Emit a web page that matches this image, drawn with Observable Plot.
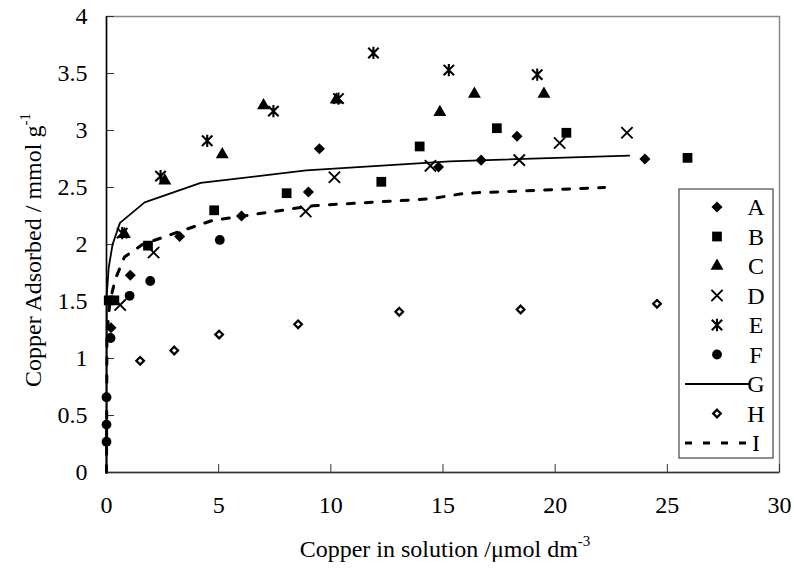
<!DOCTYPE html>
<html><head><meta charset="utf-8">
<script src="https://cdn.jsdelivr.net/npm/d3@7"></script>
<script src="https://cdn.jsdelivr.net/npm/@observablehq/plot@0.6"></script>
<style>
body{margin:0;background:#fff}
#chart{position:relative;width:794px;height:578px}
</style>
</head><body><div id="chart"></div>
<script>
// ---- data ----
const xTicks = [0, 5, 10, 15, 20, 25, 30];
const yTicks = [0, 0.5, 1, 1.5, 2, 2.5, 3, 3.5, 4];
const seriesNames = ["A", "B", "C", "D", "E", "F", "G", "H", "I"];

const aX = [0.2, 1.06, 3.26, 6.02, 9.0, 9.49, 14.8, 16.7, 18.3, 24.0];
const aY = [1.27, 1.73, 2.07, 2.25, 2.46, 2.84, 2.68, 2.74, 2.95, 2.75];

const bX = [0.1, 0.35, 1.85, 4.8, 8.03, 12.25, 13.96, 17.4, 20.5, 25.9];
const bY = [1.51, 1.51, 1.99, 2.30, 2.45, 2.55, 2.86, 3.02, 2.98, 2.76];

const cX = [0.8, 2.6, 5.16, 7.0, 10.24, 14.86, 16.4, 19.5];
const cY = [2.09, 2.56, 2.79, 3.22, 3.27, 3.16, 3.32, 3.32];

const dX = [0.61, 2.1, 8.88, 10.16, 14.44, 18.4, 20.2, 23.2];
const dY = [1.47, 1.93, 2.29, 2.59, 2.69, 2.74, 2.89, 2.98];

const eX = [0.7, 2.41, 4.49, 7.44, 10.34, 11.9, 15.26, 19.2];
const eY = [2.10, 2.60, 2.91, 3.17, 3.28, 3.68, 3.53, 3.49];

const fX = [0.0, 0.0, 0.0, 0.18, 1.03, 1.95, 5.05];
const fY = [0.27, 0.42, 0.66, 1.18, 1.55, 1.68, 2.04];

const gX = [0, 0.01, 0.1, 0.27, 0.6, 1.7, 4.2, 8.9, 15.3, 23.3];
const gY = [0, 1.55, 1.8, 2.0, 2.19, 2.37, 2.54, 2.65, 2.73, 2.78];

const hX = [1.5, 3.02, 5.02, 8.54, 13.05, 18.46, 24.54];
const hY = [0.98, 1.07, 1.21, 1.30, 1.41, 1.43, 1.48];

const iX = [0, 0.02, 0.15, 0.4, 0.8, 1.6, 3.2, 4.7, 9.2, 14.4, 16.0, 22.2];
const iY = [0, 1.2, 1.5, 1.7, 1.89, 2.0, 2.11, 2.21, 2.34, 2.40, 2.45, 2.50];

// ---- helpers ----
const pts = (xs, ys) => xs.map((x, i) => ({x, y: ys[i]}));
const FONT = "'Liberation Serif', 'Times New Roman', serif";

const asterisk = {
  draw(context, size) {
    const h = Math.sqrt(size) * 0.64;
    const d = h * 0.85;
    context.moveTo(0, -h); context.lineTo(0, h);
    context.moveTo(-d, -d); context.lineTo(d, d);
    context.moveTo(-d, d); context.lineTo(d, -d);
  }
};

const styles = {
  A: {symbol: "diamond2", r: 5, fill: "#000", stroke: "none"},
  B: {symbol: "square", r: 5.5, fill: "#000", stroke: "none"},
  C: {symbol: "triangle", r: 4.8, fill: "#000", stroke: "none"},
  D: {symbol: "times", r: 5.2, fill: "none", stroke: "#000", strokeWidth: 1.9},
  E: {symbol: asterisk, r: 5.4, fill: "none", stroke: "#000", strokeWidth: 2.1},
  F: {symbol: "circle", r: 4.9, fill: "#000", stroke: "none"},
  H: {symbol: "diamond2", r: 3.4, fill: "#fff", stroke: "#000", strokeWidth: 2.3}
};

const dotMark = (xs, ys, key) => Plot.dot(pts(xs, ys), {x: "x", y: "y", ...styles[key]});

const chart = Plot.plot({
  width: 794,
  height: 578,
  marginLeft: 106,
  marginRight: 15,
  marginTop: 16,
  marginBottom: 106,
  style: {fontFamily: FONT, fontSize: "24px", color: "#000", background: "#fff"},
  x: {domain: [0, 30]},
  y: {domain: [0, 4]},
  marks: [
    Plot.frame({stroke: "#888", strokeWidth: 1.5}),
    Plot.axisX({ticks: xTicks, tickSize: -8, fill: "none", label: null, stroke: "#333"}),
    Plot.axisX({ticks: xTicks, tickSize: 0, tickPadding: 23, label: null, fontSize: 24, tickFormat: d => String(d)}),
    Plot.axisY({ticks: yTicks, tickSize: -8, fill: "none", label: null, stroke: "#333"}),
    Plot.axisY({ticks: yTicks, tickSize: 0, tickPadding: 19, label: null, fontSize: 24, tickFormat: d => String(d)}),
    Plot.ruleX([0], {stroke: "#000", strokeWidth: 1.5}),
    Plot.ruleY([0], {stroke: "#333", strokeWidth: 1.5}),
    Plot.line(pts(gX, gY), {x: "x", y: "y", stroke: "#000", strokeWidth: 1.8}),
    Plot.line(pts(iX, iY), {x: "x", y: "y", stroke: "#000", strokeWidth: 3, strokeDasharray: "7,11"}),
    dotMark(hX, hY, "H"),
    dotMark(fX, fY, "F"),
    dotMark(dX, dY, "D"),
    dotMark(aX, aY, "A"),
    dotMark(bX, bY, "B"),
    dotMark(cX, cY, "C"),
    dotMark(eX, eY, "E")
  ]
});
document.getElementById("chart").appendChild(chart);

// ---- axis titles with superscripts ----
const svg = d3.select(chart);
const xt = svg.append("text")
  .attr("x", 445).attr("y", 557)
  .attr("text-anchor", "middle")
  .attr("font-family", FONT).attr("font-size", 24).attr("fill", "#000");
xt.append("tspan").text("Copper in solution /\u03bcmol dm");
xt.append("tspan").attr("font-size", 15).attr("dy", -11).text("-3");

const yt = svg.append("text")
  .attr("transform", "translate(41,250) rotate(-90)")
  .attr("text-anchor", "middle")
  .attr("font-family", FONT).attr("font-size", 24).attr("fill", "#000");
yt.append("tspan").text("Copper Adsorbed / mmol g");
yt.append("tspan").attr("font-size", 15).attr("dy", -11).text("-1");

// ---- legend box inside the plot ----
const lg = svg.append("g").attr("font-family", FONT).attr("font-size", 24);
lg.append("rect").attr("x", 679).attr("y", 189).attr("width", 94).attr("height", 269)
  .attr("fill", "#fff").attr("stroke", "#444").attr("stroke-width", 1.2);
const toD3 = s => typeof s === "object" ? s : ({
  diamond2: d3.symbolDiamond2, square: d3.symbolSquare, triangle: d3.symbolTriangle,
  times: d3.symbolTimes, circle: d3.symbolCircle
})[s];
seriesNames.forEach((name, i) => {
  const cy = 207 + i * 29.5;
  if (name === "G" || name === "I") {
    lg.append("line").attr("x1", 685).attr("x2", 750).attr("y1", cy).attr("y2", cy)
      .attr("stroke", "#000")
      .attr("stroke-width", name === "G" ? 1.8 : 3)
      .attr("stroke-dasharray", name === "I" ? "7,11" : null);
  } else {
    const st = styles[name];
    lg.append("path")
      .attr("transform", `translate(717,${cy})`)
      .attr("d", d3.symbol(toD3(st.symbol), Math.PI * st.r * st.r)())
      .attr("fill", st.fill).attr("stroke", st.stroke)
      .attr("stroke-width", st.strokeWidth || null);
  }
  lg.append("text").attr("x", 756).attr("y", cy).attr("dy", "0.35em")
    .attr("fill", "#000").text(name);
});
</script>
</body></html>
